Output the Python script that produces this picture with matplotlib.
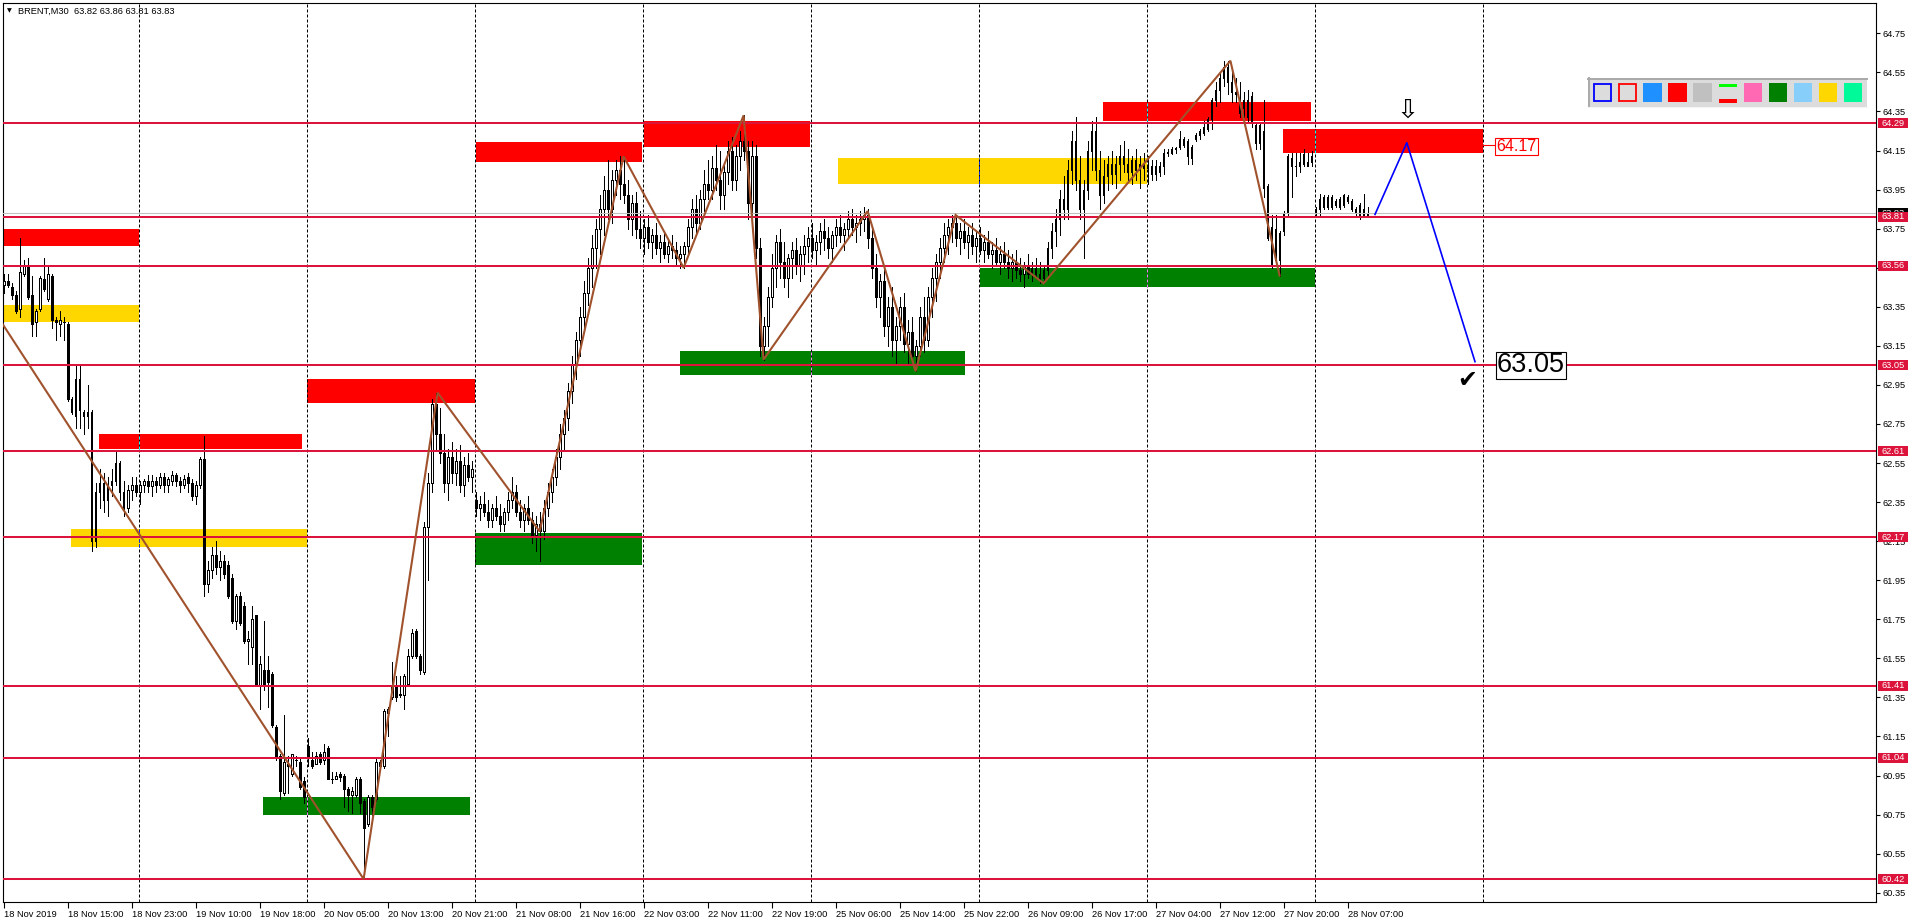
import numpy as np
import matplotlib
matplotlib.use("Agg")
import matplotlib.pyplot as plt
from matplotlib.patches import Rectangle
import matplotlib.transforms as mtransforms

# ---------------- data (prices in cents) ----------------
OPEN = [
6346,6348,6345,6341,6334,6352,6356,6341,6327,6334,
6349,6339,6351,6328,6326,6327,6326,6288,6279,6298,
6281,6279,6281,6215,6240,6245,6236,6244,6246,6255,
6240,6232,6241,6244,6240,6244,6246,6243,6246,6244,
6248,6244,6246,6249,6246,6244,6248,6245,6238,6244,
6257,6193,6200,6208,6202,6205,6203,6196,6174,6187,
6182,6164,6161,6177,6141,6149,6149,6147,6120,6105,
6086,6101,6096,6103,6102,6092,6110,6103,6101,6106,
6103,6109,6093,6093,6096,6095,6088,6085,6085,6093,
6082,6070,6084,6083,6102,6100,6127,6135,6141,6136,
6136,6142,6156,6169,6156,6148,6222,6245,6285,6270,
6260,6245,6258,6250,6256,6244,6254,6248,6236,6232,
6234,6230,6226,6232,6228,6224,6230,6236,6240,6230,
6226,6232,6226,6218,6224,6220,6232,6240,6248,6258,
6270,6278,6292,6305,6318,6330,6342,6355,6365,6375,
6385,6395,6385,6400,6405,6398,6392,6380,6388,6375,
6370,6376,6368,6372,6365,6368,6362,6366,6364,6360,
6362,6366,6376,6385,6378,6390,6398,6395,6406,6400,
6392,6404,6415,6400,6412,6420,6415,6388,6412,6365,
6315,6325,6340,6355,6368,6358,6350,6360,6364,6356,
6362,6366,6370,6364,6368,6374,6370,6365,6372,6376,
6372,6375,6380,6376,6378,6380,6382,6370,6355,6340,
6348,6325,6335,6318,6325,6335,6316,6322,6310,6315,
6330,6318,6340,6350,6358,6365,6372,6376,6378,6370,
6374,6368,6372,6366,6370,6364,6368,6362,6364,6358,
6362,6358,6355,6358,6354,6352,6356,6352,6355,6352,
6350,6354,6365,6374,6380,6390,6385,6405,6420,6400,
6385,6395,6415,6425,6405,6392,6402,6408,6403,6408,
6412,6408,6404,6410,6405,6408,6406,6407,6407,6407,
6407,6414,6414,6416,6417,6418,6420,6411,6421,6423,
6424,6426,6431,6441,6446,6452,6458,6450,6445,6441,
6441,6441,6429,6419,6419,6425,6397,6356,6375,6359,
6374,6383,6411,6407,6407,6413,6407,6409,6383,6385,
6391,6386,6391,6387,6390,6387,6391,6389,6383,6387,
6382,6382]

HIGH = [
6352,6352,6347,6343,6370,6359,6360,6351,6334,6351,
6360,6356,6352,6330,6333,6330,6327,6289,6305,6305,
6282,6295,6282,6245,6252,6250,6248,6252,6261,6256,
6246,6244,6248,6248,6246,6247,6249,6249,6248,6250,
6250,6248,6251,6250,6248,6249,6250,6247,6246,6258,
6269,6205,6212,6215,6210,6208,6205,6198,6188,6189,
6184,6169,6182,6177,6156,6174,6156,6148,6121,6106,
6126,6105,6106,6105,6104,6094,6114,6107,6107,6107,
6111,6110,6097,6097,6097,6096,6089,6089,6094,6094,
6083,6085,6085,6104,6103,6129,6130,6153,6146,6146,
6147,6160,6170,6170,6157,6225,6250,6288,6291,6283,
6270,6262,6266,6262,6264,6258,6260,6256,6240,6238,
6240,6236,6234,6238,6234,6232,6240,6248,6244,6236,
6234,6238,6230,6228,6230,6236,6245,6252,6262,6275,
6282,6296,6310,6322,6335,6348,6360,6372,6380,6392,
6402,6410,6405,6410,6412,6412,6400,6392,6394,6384,
6380,6382,6375,6378,6372,6374,6370,6372,6368,6366,
6368,6380,6390,6392,6395,6405,6410,6412,6418,6415,
6408,6420,6422,6418,6425,6433,6420,6420,6418,6370,
6330,6345,6362,6372,6375,6368,6362,6368,6370,6366,
6372,6376,6378,6372,6378,6380,6376,6374,6380,6382,
6378,6384,6385,6382,6384,6386,6385,6375,6362,6352,
6355,6340,6345,6330,6340,6342,6328,6330,6318,6335,
6340,6345,6355,6362,6370,6378,6380,6382,6382,6378,
6380,6376,6378,6374,6376,6372,6374,6368,6370,6366,
6368,6364,6362,6364,6360,6358,6362,6358,6360,6358,
6356,6368,6378,6385,6395,6402,6410,6425,6432,6412,
6400,6420,6430,6432,6415,6410,6412,6415,6412,6418,
6420,6416,6412,6416,6412,6414,6412,6410,6410,6409,
6416,6416,6417,6417,6425,6422,6421,6418,6424,6426,
6430,6432,6442,6450,6455,6461,6461,6458,6452,6450,
6445,6446,6445,6429,6429,6441,6398,6382,6382,6374,
6384,6413,6414,6414,6414,6416,6414,6415,6386,6393,
6392,6392,6392,6390,6391,6393,6392,6390,6386,6388,
6393,6386]

LOW = [
6342,6345,6339,6332,6330,6351,6339,6320,6320,6333,
6343,6338,6324,6318,6320,6318,6287,6280,6273,6273,
6270,6273,6210,6212,6232,6230,6228,6238,6244,6236,
6228,6230,6236,6238,6234,6240,6240,6238,6240,6242,
6240,6240,6244,6243,6240,6242,6240,6236,6234,6242,
6187,6189,6196,6198,6195,6196,6186,6173,6170,6172,
6163,6152,6152,6141,6129,6139,6130,6120,6103,6083,
6085,6086,6095,6100,6088,6081,6100,6099,6101,6101,
6101,6093,6091,6093,6092,6079,6077,6076,6084,6076,
6042,6069,6075,6082,6098,6099,6115,6134,6133,6135,
6129,6141,6155,6155,6147,6147,6195,6240,6262,6255,
6240,6236,6245,6244,6240,6238,6246,6240,6228,6226,
6228,6222,6222,6226,6220,6220,6226,6232,6228,6222,
6220,6224,6214,6210,6205,6216,6228,6235,6244,6252,
6262,6272,6286,6298,6310,6322,6336,6345,6355,6362,
6372,6380,6378,6392,6390,6388,6375,6372,6370,6365,
6362,6365,6360,6362,6358,6360,6358,6360,6356,6355,
6355,6362,6370,6372,6375,6384,6390,6390,6395,6385,
6385,6398,6395,6395,6405,6410,6380,6382,6360,6310,
6308,6315,6335,6345,6350,6345,6340,6350,6352,6348,
6352,6358,6360,6356,6362,6364,6360,6358,6366,6368,
6364,6370,6372,6368,6372,6374,6365,6350,6335,6330,
6320,6315,6310,6305,6318,6312,6306,6305,6302,6310,
6312,6315,6330,6338,6350,6358,6362,6368,6366,6362,
6365,6360,6362,6358,6362,6358,6360,6355,6356,6352,
6355,6350,6348,6350,6348,6345,6350,6348,6350,6347,
6347,6350,6360,6366,6372,6380,6380,6398,6395,6380,
6360,6390,6405,6400,6385,6388,6395,6398,6396,6400,
6404,6400,6398,6400,6396,6400,6398,6400,6400,6402,
6403,6412,6413,6414,6416,6417,6408,6408,6420,6421,
6423,6425,6426,6438,6440,6448,6444,6440,6440,6432,
6432,6430,6427,6416,6416,6391,6369,6355,6357,6351,
6372,6381,6391,6402,6404,6407,6407,6407,6382,6382,
6385,6385,6385,6386,6385,6386,6388,6384,6382,6380,
6382,6381]

CLOSE = [
6348,6346,6341,6333,6353,6356,6340,6326,6333,6350,
6344,6352,6328,6327,6328,6327,6288,6281,6298,6282,
6279,6281,6215,6240,6245,6236,6244,6246,6255,6240,
6232,6241,6244,6240,6244,6246,6243,6246,6244,6248,
6244,6247,6249,6246,6244,6247,6245,6238,6244,6257,
6193,6200,6208,6202,6205,6198,6187,6174,6187,6173,
6164,6165,6175,6142,6152,6141,6143,6121,6104,6087,
6102,6100,6106,6103,6089,6084,6105,6100,6105,6102,
6107,6093,6093,6095,6094,6088,6085,6087,6093,6081,
6068,6084,6079,6102,6100,6128,6129,6141,6135,6137,
6146,6156,6168,6156,6149,6222,6245,6285,6270,6260,
6245,6258,6250,6256,6244,6254,6248,6252,6232,6234,
6230,6226,6232,6228,6224,6230,6236,6240,6230,6226,
6232,6226,6218,6224,6220,6232,6240,6248,6258,6270,
6278,6292,6305,6318,6330,6342,6355,6365,6375,6385,
6395,6385,6400,6405,6398,6392,6380,6388,6375,6370,
6376,6368,6372,6365,6368,6362,6366,6364,6360,6362,
6366,6376,6385,6378,6390,6398,6395,6406,6400,6392,
6404,6415,6400,6412,6420,6415,6388,6412,6365,6315,
6325,6340,6355,6368,6358,6350,6360,6364,6356,6362,
6366,6370,6364,6368,6374,6370,6365,6372,6376,6372,
6375,6380,6376,6378,6380,6382,6370,6355,6340,6348,
6325,6335,6318,6325,6335,6316,6322,6310,6315,6330,
6318,6340,6350,6358,6365,6372,6376,6378,6370,6374,
6368,6372,6366,6370,6364,6368,6362,6364,6358,6362,
6358,6355,6358,6354,6352,6356,6352,6355,6352,6350,
6354,6365,6374,6380,6390,6385,6405,6420,6400,6385,
6395,6415,6425,6405,6392,6402,6408,6403,6408,6412,
6408,6404,6410,6405,6408,6406,6407,6403,6403,6404,
6414,6414,6416,6416,6421,6421,6412,6417,6423,6425,
6427,6431,6441,6446,6452,6458,6450,6445,6444,6434,
6437,6432,6443,6428,6428,6396,6370,6376,6359,6373,
6383,6412,6407,6407,6409,6408,6409,6412,6385,6390,
6386,6391,6386,6389,6386,6392,6389,6385,6385,6382,
6385,6383]

TIME_LABELS = ["18 Nov 2019", "18 Nov 15:00", "18 Nov 23:00", "19 Nov 10:00",
               "19 Nov 18:00", "20 Nov 05:00", "20 Nov 13:00", "20 Nov 21:00",
               "21 Nov 08:00", "21 Nov 16:00", "22 Nov 03:00", "22 Nov 11:00",
               "22 Nov 19:00", "25 Nov 06:00", "25 Nov 14:00", "25 Nov 22:00",
               "26 Nov 09:00", "26 Nov 17:00", "27 Nov 04:00", "27 Nov 12:00",
               "27 Nov 20:00", "28 Nov 07:00"]
TIME_BARS = [0, 16, 32, 48, 64, 80, 96, 112, 128, 144, 160, 176, 192, 208,
             224, 240, 256, 272, 288, 304, 320, 336]
PRICE_TICKS = [60.35, 60.55, 60.75, 60.95, 61.15, 61.35, 61.55, 61.75, 61.95,
               62.15, 62.35, 62.55, 62.75, 62.95, 63.15, 63.35, 63.55, 63.75,
               63.95, 64.15, 64.35, 64.55, 64.75]
GRID_BARS = [33.9, 75.9, 117.9, 159.9, 201.9, 243.9, 285.9, 327.9, 369.9]

LEVELS = [64.29, 63.81, 63.56, 63.05, 62.61, 62.17, 61.41, 61.04, 60.42]
BID = 63.83

ZONE_X0 = [-0.3, -0.3, 23.9, 16.8, 64.85, 75.8, 117.9, 118.2, 160.1, 208.6, 169.0, 244.1, 274.9, 319.9]
ZONE_X1 = [33.8, 33.8, 74.6, 75.8, 116.7, 117.9, 159.5, 159.5, 201.6, 285.9, 240.4, 327.9, 326.9, 369.9]
ZONE_Y0 = [63.66, 63.27, 62.62, 62.12, 60.746, 62.86, 62.03, 64.09, 64.17, 63.98, 63.00, 63.45, 64.30, 64.14]
ZONE_Y1 = [63.75, 63.36, 62.70, 62.21, 60.84, 62.98, 62.19, 64.195, 64.30, 64.11, 63.125, 63.55, 64.40, 64.26]
ZONE_COLOR = ["#FF0000", "#FFD700", "#FF0000", "#FFD700", "#008000", "#FF0000", "#008000",
              "#FF0000", "#FF0000", "#FFD700", "#008000", "#008000", "#FF0000", "#FF0000"]

ZZ_X = [-0.2, 90, 108.5, 134, 155, 170, 185, 190, 216, 228, 238, 260, 306.7, 319]
ZZ_Y = [63.26, 60.42, 62.91, 62.20, 64.12, 63.55, 64.33, 63.08, 63.84, 63.02, 63.82, 63.47, 64.61, 63.51]

FC_X = [342.85, 350.8, 367.85]
FC_Y = [63.823, 64.19, 63.069]

TOOL_COLORS = ["outline:#0000FF", "outline:#FF0000", "#1E90FF", "#FF0000", "#C0C0C0",
               "bars", "#FF69B4", "#008000", "#87CEFA", "#FFD700", "#00FA9A"]

TITLE = "BRENT,M30  63.82 63.86 63.81 63.83"

# ---------------- figure ----------------
plt.rcParams['font.family'] = ['Liberation Sans', 'DejaVu Sans']
W, H = 1916, 923
fig = plt.figure(figsize=(W / 100, H / 100), dpi=100)
fig.patch.set_facecolor('white')

AX_L, AX_R, AX_T, AX_B = 2.5, 1876.0, 2.7, 902.3
ax = fig.add_axes([AX_L / W, (H - AX_B) / H, (AX_R - AX_L) / W, (AX_B - AX_T) / H])
YMIN, YMAX = 60.301, 64.907
XMIN, XMAX = -0.275, 468.1
ax.set_xlim(XMIN, XMAX)
ax.set_ylim(YMIN, YMAX)
for s in ax.spines.values():
    s.set_linewidth(0.8)
    s.set_color('black')

px_per_price = (AX_B - AX_T) / (YMAX - YMIN)

o = np.array(OPEN) / 100.0
h = np.array(HIGH) / 100.0
l = np.array(LOW) / 100.0
c = np.array(CLOSE) / 100.0
n = min(len(o), len(h), len(l), len(c))
o, h, l, c = o[:n], h[:n], l[:n], c[:n]
h = np.maximum(h, np.maximum(o, c))
l = np.minimum(l, np.minimum(o, c))
x = np.arange(n)

# zones
for x0, x1, y0, y1, col in zip(ZONE_X0, ZONE_X1, ZONE_Y0, ZONE_Y1, ZONE_COLOR):
    ax.add_patch(Rectangle((x0, y0), x1 - x0, y1 - y0, facecolor=col, edgecolor='none', zorder=1))

# grid (dashed), inverted inside zones
dash = (0, (3, 2))
for gx in GRID_BARS:
    ax.axvline(gx, color='black', lw=0.72, ls=dash, zorder=2)
    for x0, x1, y0, y1, col in zip(ZONE_X0, ZONE_X1, ZONE_Y0, ZONE_Y1, ZONE_COLOR):
        if x0 + 0.3 < gx < x1 - 0.3:
            rgb = matplotlib.colors.to_rgb(col)
            inv = tuple(1 - v for v in rgb)
            ax.plot([gx, gx], [y0, y1], color=inv, lw=0.72, ls=dash, zorder=2.2)

# candles
ax.vlines(x, l, h, color='black', lw=0.7, zorder=3, antialiased=False)
up = c >= o
bottom = np.minimum(o, c)
height = np.maximum(np.abs(c - o), 0.002)
ax.bar(x, height, bottom=bottom, width=0.45,
       color=np.where(up, 'white', 'black'), edgecolor='black', linewidth=0.7,
       zorder=3.5, antialiased=False)

# levels
ax.axhline(BID, color='#C0C0C0', lw=0.75, zorder=4)
for lv in LEVELS:
    ax.axhline(lv, color='#DC143C', lw=1.45, zorder=4.5)

# zigzag and forecast
ax.plot(ZZ_X, ZZ_Y, color='#A0522D', lw=1.5, zorder=5, solid_joinstyle='miter')
ax.plot(FC_X, FC_Y, color='#0000FF', lw=1.2, zorder=5)

# annotations
ax.plot([ZONE_X1[13], 372.6], [64.18, 64.18], color='red', lw=0.8, zorder=5, clip_on=False)
ax.text(373.2, 64.17, "64.17", color='red', fontsize=11.5, ha='left', va='center', zorder=6,
        bbox=dict(facecolor='white', edgecolor='red', lw=0.8, pad=0.8))
ax.text(373.3, 63.05, "63.05", color='black', fontsize=19.5, ha='left', va='center', zorder=6,
        bbox=dict(facecolor='white', edgecolor='black', lw=0.8, pad=0.6))
ax.text(365.9, 62.975, "\u2714", color='black', fontsize=17, ha='center', va='center',
        family='DejaVu Sans', zorder=6)
ax.text(350.9, 64.355, "\u21E9", color='black', fontsize=19, ha='center', va='center',
        family='DejaVu Sans', zorder=6)

# axes ticks
ax.yaxis.tick_right()
ax.set_yticks(PRICE_TICKS)
ax.set_yticklabels([f"{v:.2f}" for v in PRICE_TICKS])
ax.tick_params(axis='y', direction='out', length=3, width=0.8, pad=2, labelsize=6.7, colors='black')
ax.set_xticks(TIME_BARS)
ax.set_xticklabels(TIME_LABELS, ha='left')
ax.tick_params(axis='x', direction='out', length=4, width=0.8, pad=1.5, labelsize=6.7)

# price tags on the axis
trans = mtransforms.blended_transform_factory(ax.transAxes, ax.transData)
tag_w = 30 / (AX_R - AX_L)
tag_x0 = 1 + 2 / (AX_R - AX_L)
tag_h = 10 / px_per_price

def tag(price, face, txt, z):
    ax.add_patch(Rectangle((tag_x0, price - tag_h / 2), tag_w, tag_h, transform=trans,
                           facecolor=face, edgecolor='none', clip_on=False, zorder=z))
    ax.text(tag_x0 + tag_w / 2, price, txt, transform=trans, color='white', fontsize=6.7,
            ha='center', va='center', clip_on=False, zorder=z + 0.1)

tag(BID, 'black', f"{BID:.2f}", 10)
for lv in LEVELS:
    tag(lv, '#DC143C', f"{lv:.2f}", 11)

# overlay in pixel coordinates for UI elements
ov = fig.add_axes([0, 0, 1, 1])
ov.set_xlim(0, W)
ov.set_ylim(H, 0)
ov.axis('off')
ov.patch.set_visible(False)

ov.text(9.5, 11, "\u25BC", fontsize=4.5, family='DejaVu Sans', ha='center', va='center')
ov.text(18, 11, TITLE, fontsize=6.7, ha='left', va='center', color='black')

# toolbar
ov.add_patch(Rectangle((1588, 78), 279, 29, facecolor='#DCDCDC', edgecolor='none'))
ov.plot([1588, 1867], [78.7, 78.7], color='#A9A9A9', lw=1.4)
ov.plot([1588.7, 1588.7], [78, 107], color='#A9A9A9', lw=1.4)
ov.plot([1588, 1867], [106.5, 106.5], color='#F4F4F4', lw=0.8)
for k, col in enumerate(TOOL_COLORS):
    x0 = 1593.3 + 25.05 * k
    if col.startswith('outline:'):
        ov.add_patch(Rectangle((x0 + 0.7, 84.0), 17.0, 17.0, facecolor='#DCDCDC',
                               edgecolor=col.split(':')[1], lw=1.3))
    elif col == 'bars':
        ov.add_patch(Rectangle((x0, 84.0), 18.0, 3.4, facecolor='#00FF00', edgecolor='none'))
        ov.add_patch(Rectangle((x0, 99.0), 18.0, 3.6, facecolor='#FF0000', edgecolor='none'))
    else:
        ov.add_patch(Rectangle((x0, 83.3), 18.3, 18.4, facecolor=col, edgecolor='none'))

fig.savefig("out.png", dpi=100, facecolor='white')
